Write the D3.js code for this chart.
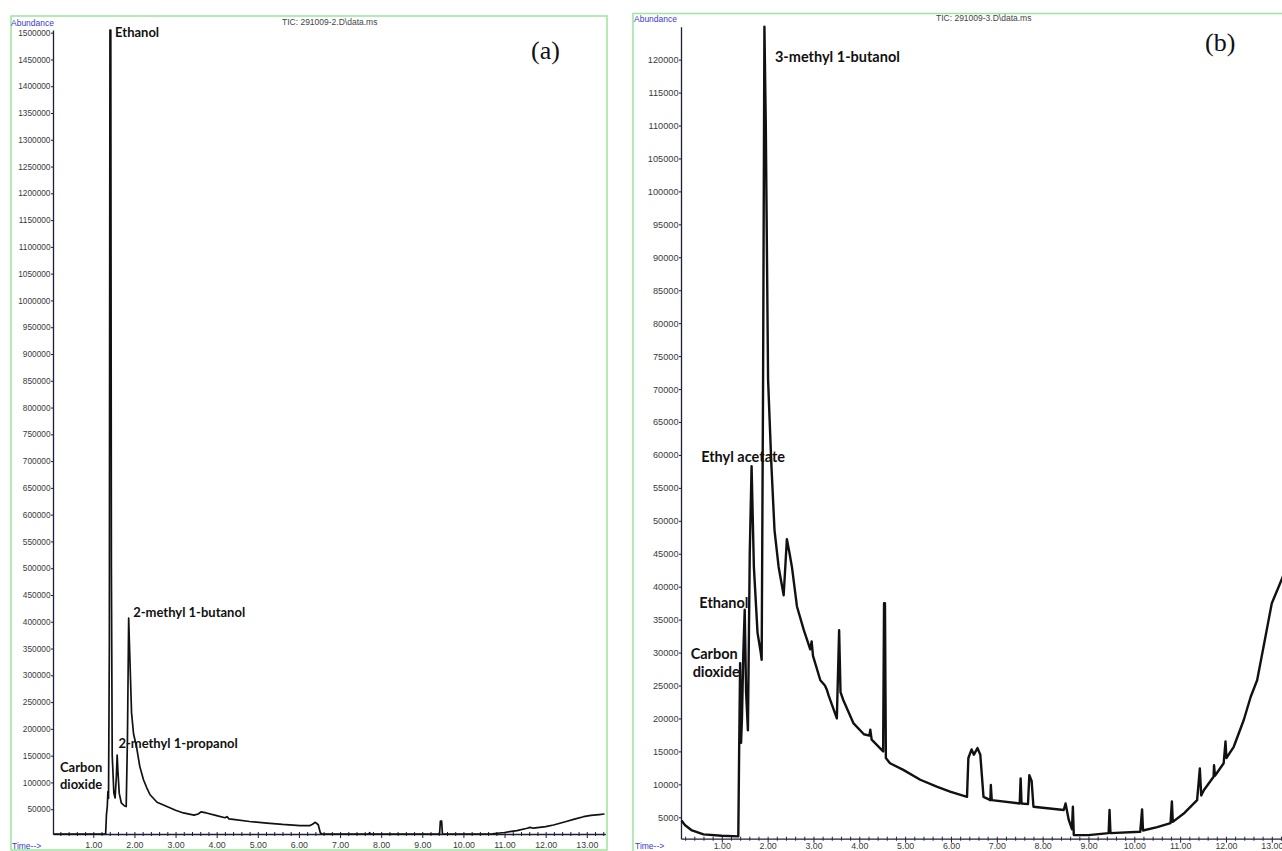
<!DOCTYPE html>
<html lang="en">
<head>
    <meta charset="UTF-8">
    <script src="https://cdn.jsdelivr.net/npm/d3@7"></script>
    <title>TIC chromatograms (a) and (b)</title>
    <style>
        body { margin: 0; background: #ffffff; }
        svg { display: block; }
        .tick text { font-family: "Liberation Sans", Arial, sans-serif; fill: #3a3a3a; }
        .axis path, .axis line { stroke: #1e1e38; }
        .blue { font-family: "Liberation Sans", Arial, sans-serif; font-size: 8.5px; fill: #3a3ad0; }
        .file { font-family: "Liberation Sans", Arial, sans-serif; font-size: 8.5px; fill: #444; }
        .peak { font-family: Lato, "Noto Sans", sans-serif; font-weight: bold; fill: #111; }
        .letter { font-family: "Liberation Serif", "Times New Roman", serif; font-size: 26px; fill: #111; }
        .trace { fill: none; stroke: #111; stroke-linejoin: round; }
    </style>
</head>
<body>
<svg width="1282" height="851"></svg>

<script>
    const WIDTH = 1282;
    const HEIGHT = 851;

    // ---- panel (a): TIC 291009-2 ----
    const timeA = [0.03, 1.30, 1.32, 1.34, 1.355, 1.37, 1.39, 1.405, 1.425, 1.44, 1.46, 1.50, 1.53, 1.56, 1.58,
        1.60, 1.63, 1.68, 1.76, 1.80, 1.83, 1.86, 1.89, 1.93, 1.98, 2.05, 2.13, 2.22, 2.30, 2.38, 2.55, 2.79,
        3.00, 3.19, 3.45, 3.55, 3.62, 3.75, 4.00, 4.20, 4.25, 4.30, 4.40, 4.80, 5.22, 5.60, 6.03, 6.27, 6.33,
        6.40, 6.47, 6.52, 6.56, 7.70, 7.72, 7.75, 9.42, 9.44, 9.47, 9.49, 10.70, 11.00, 11.30, 11.55, 11.62,
        11.70, 12.00, 12.19, 12.50, 12.70, 12.92, 13.10, 13.30, 13.43];
    const abundanceA = [3700, 3700, 40000, 55000, 83000, 70000, 350000, 1505000, 1505000, 500000, 150000, 80000,
        71000, 110000, 151000, 120000, 80000, 62000, 56000, 55000, 180000, 407000, 330000, 230000, 190000,
        167000, 130000, 105000, 90000, 77000, 63000, 55000, 48000, 43000, 39000, 41000, 45000, 43000, 38000,
        34000, 36000, 32000, 31000, 27000, 24000, 21500, 19500, 19500, 22000, 25500, 21000, 6000, 3700, 3700,
        6000, 3700, 3700, 28000, 28000, 3700, 4200, 6500, 10000, 14400, 16000, 14500, 17500, 20500, 27000,
        31500, 36000, 38500, 40000, 41000];
    const yTicksA = [50000, 100000, 150000, 200000, 250000, 300000, 350000, 400000, 450000, 500000, 550000,
        600000, 650000, 700000, 750000, 800000, 850000, 900000, 950000, 1000000, 1050000, 1100000, 1150000,
        1200000, 1250000, 1300000, 1350000, 1400000, 1450000, 1500000];
    const peakNamesA = ["Ethanol", "2-methyl 1-butanol", "2-methyl 1-propanol", "Carbon|dioxide"];
    const peakTimesA = [1.53, 1.97, 1.61, 0.19];
    const peakLevelsA = [1492000, 409000, 163700, 120000];

    // ---- panel (b): TIC 291009-3 ----
    const timeB = [0.12, 0.20, 0.35, 0.60, 1.00, 1.36, 1.38, 1.40, 1.42, 1.44, 1.47, 1.50, 1.53, 1.57, 1.61,
        1.65, 1.70, 1.78, 1.85, 1.87, 1.90, 1.93, 1.96, 2.01, 2.08, 2.15, 2.24, 2.35, 2.42, 2.48, 2.53, 2.64,
        2.79, 2.93, 2.96, 2.99, 3.15, 3.25, 3.29, 3.33, 3.51, 3.56, 3.59, 3.65, 3.87, 4.10, 4.22, 4.24, 4.27,
        4.52, 4.54, 4.56, 4.58, 4.67, 4.96, 5.33, 5.69, 5.98, 6.35, 6.38, 6.45, 6.50, 6.58, 6.64, 6.71, 6.86,
        6.87, 6.89, 7.50, 7.52, 7.54, 7.68, 7.71, 7.76, 7.80, 8.46, 8.50, 8.57, 8.64, 8.66, 8.68, 9.00, 9.44,
        9.46, 9.48, 10.13, 10.17, 10.19, 10.50, 10.79, 10.82, 10.84, 11.10, 11.37, 11.43, 11.46, 11.52, 11.73,
        11.74, 11.76, 11.95, 11.99, 12.01, 12.17, 12.39, 12.54, 12.68, 12.85, 13.00, 13.15, 13.30];
    const abundanceB = [4500, 3800, 3000, 2400, 2200, 2100, 16000, 28400, 16300, 20000, 30000, 36500, 24000,
        18200, 45000, 58300, 43000, 33000, 30000, 28900, 70000, 125000, 110000, 71400, 58800, 48600, 43000,
        38700, 47200, 45000, 43000, 37000, 33400, 30500, 31700, 29500, 25800, 25000, 24400, 23500, 20000,
        33400, 24000, 22800, 19300, 17600, 17400, 18300, 16800, 15000, 37500, 37500, 14000, 13200, 12200,
        10700, 9650, 8900, 8100, 14000, 15300, 14500, 15500, 14500, 8100, 7600, 9900, 7600, 7100, 10900, 7100,
        7000, 11400, 10500, 6600, 6100, 7100, 4600, 3200, 6600, 2300, 2300, 2600, 6100, 2600, 2800, 6200,
        3000, 3500, 4100, 7400, 4300, 5700, 7600, 12400, 8300, 9150, 11150, 12900, 11300, 13200, 16500,
        14000, 15700, 19800, 23300, 25800, 32000, 37500, 40000, 42500];
    const yTicksB = [5000, 10000, 15000, 20000, 25000, 30000, 35000, 40000, 45000, 50000, 55000, 60000,
        65000, 70000, 75000, 80000, 85000, 90000, 95000, 100000, 105000, 110000, 115000, 120000];
    const peakNamesB = ["3-methyl 1-butanol", "Ethyl acetate", "Ethanol", "Carbon|dioxide"];
    const peakTimesB = [2.16, 0.55, 0.51, 0.32];
    const peakLevelsB = [119700, 59000, 36800, 29100];

    const xTicks = [1, 2, 3, 4, 5, 6, 7, 8, 9, 10, 11, 12, 13];
    const fileNames = ["TIC: 291009-2.D\\data.ms", "TIC: 291009-3.D\\data.ms"];
    const letters = ["(a)", "(b)"];

    const panels = [
        {
            time: timeA, abundance: abundanceA, yTicks: yTicksA,
            names: peakNamesA, peakT: peakTimesA, peakV: peakLevelsA,
            file: fileNames[0], letter: letters[0],
            tDomain: [0.02, 13.45], xRange: [53, 605.3],
            vDomain: [3700, 1505000], yRange: [834, 30],
            frame: [11, 16, 596, 834],
            fileAt: [282, 25], letterAt: [531, 59], abundanceAt: [11, 25.5], timeAt: [12, 849],
            yFont: 8.3, xFont: 8.8, peakFont: 13, stroke: 1.7, labelPad: 4, indent: 0
        },
        {
            time: timeB, abundance: abundanceB, yTicks: yTicksB,
            names: peakNamesB, peakT: peakTimesB, peakV: peakLevelsB,
            file: fileNames[1], letter: letters[1],
            tDomain: [0.11, 13.6], xRange: [681, 1299.3],
            vDomain: [1750, 125000], yRange: [838.7, 26.7],
            frame: [633, 13.5, 700, 840],
            fileAt: [936, 21], letterAt: [1205, 51], abundanceAt: [634, 21.5], timeAt: [635, 849],
            yFont: 9.2, xFont: 8.8, peakFont: 14.5, stroke: 2.4, labelPad: 0, indent: 2
        }
    ];

    function init() {
        const svg = d3.select("svg");
        panels.forEach(p => {
            const g = svg.append("g").attr("class", "panel");
            const [x, y] = makeScales(p);
            drawFrame(g, p);
            drawAxes(g, p, x, y);
            drawTrace(g, p, x, y);
            drawPeakNames(g, p, x, y);
        });
    }

    function makeScales(p) {
        const x = d3.scaleLinear().domain(p.tDomain).range(p.xRange);
        const y = d3.scaleLinear().domain(p.vDomain).range(p.yRange);
        return [x, y];
    }

    function drawFrame(g, p) {
        const [fx, fy, fw, fh] = p.frame;
        g.append("rect")
            .attr("x", fx).attr("y", fy)
            .attr("width", fw).attr("height", fh)
            .attr("fill", "none")
            .attr("stroke", "#9be69b")
            .attr("stroke-width", 1.5);

        g.append("text").attr("class", "blue")
            .attr("x", p.abundanceAt[0]).attr("y", p.abundanceAt[1])
            .text("Abundance");
        g.append("text").attr("class", "blue")
            .attr("x", p.timeAt[0]).attr("y", p.timeAt[1])
            .text("Time-->");
        g.append("text").attr("class", "file")
            .attr("x", p.fileAt[0]).attr("y", p.fileAt[1])
            .text(p.file);
        g.append("text").attr("class", "letter")
            .attr("x", p.letterAt[0]).attr("y", p.letterAt[1])
            .text(p.letter);
    }

    function drawAxes(g, p, x, y) {
        const x0 = x.range()[0];
        const yBase = y.range()[0];

        const left = g.append("g")
            .attr("class", "axis left")
            .attr("transform", `translate(${x0}, 0)`)
            .call(d3.axisLeft(y)
                .tickValues(p.yTicks)
                .tickSize(2)
                .tickPadding(0.5)
                .tickSizeOuter(0)
                .tickFormat(d => d));
        left.selectAll("text").style("font-size", p.yFont + "px");
        left.select(".domain").attr("stroke-width", 1.3);

        const minor = d3.range(1, 70).map(i => i / 5)
            .filter(t => t > p.tDomain[0] && t < p.tDomain[1] && Math.abs(t - Math.round(t)) > 1e-6);

        const bottom = g.append("g")
            .attr("class", "axis bottom")
            .attr("transform", `translate(0, ${yBase})`)
            .call(d3.axisBottom(x)
                .tickValues(xTicks)
                .tickSize(4)
                .tickPadding(p.labelPad)
                .tickSizeOuter(0)
                .tickFormat(d3.format(".2f")));
        bottom.selectAll("text").style("font-size", p.xFont + "px");
        bottom.select(".domain").attr("stroke-width", 1.3);

        g.append("g")
            .attr("class", "axis minor")
            .attr("transform", `translate(0, ${yBase})`)
            .call(d3.axisBottom(x).tickValues(minor).tickSize(2).tickFormat("").tickSizeOuter(0))
            .select(".domain").remove();

        g.append("g")
            .attr("class", "axis minor top")
            .attr("transform", `translate(0, ${yBase})`)
            .call(d3.axisTop(x).tickValues(xTicks.concat(minor)).tickSize(2).tickFormat("").tickSizeOuter(0))
            .select(".domain").remove();
    }

    function drawTrace(g, p, x, y) {
        const points = p.time.map((t, i) => [t, p.abundance[i]]);
        const line = d3.line()
            .x(d => x(d[0]))
            .y(d => y(Math.min(d[1], p.vDomain[1])));

        g.append("path")
            .datum(points)
            .attr("class", "trace")
            .attr("stroke-width", p.stroke)
            .attr("d", line);
    }

    function drawPeakNames(g, p, x, y) {
        p.names.forEach((name, i) => {
            const lines = name.split("|");
            const txt = g.append("text")
                .attr("class", "peak")
                .style("font-size", p.peakFont + "px")
                .attr("x", x(p.peakT[i]))
                .attr("y", y(p.peakV[i]));
            lines.forEach((s, k) => {
                txt.append("tspan")
                    .attr("x", x(p.peakT[i]) + (k > 0 ? p.indent : 0))
                    .attr("dy", k === 0 ? 0 : "1.3em")
                    .text(s);
            });
        });
    }

    init();
</script>
</body>
</html>
